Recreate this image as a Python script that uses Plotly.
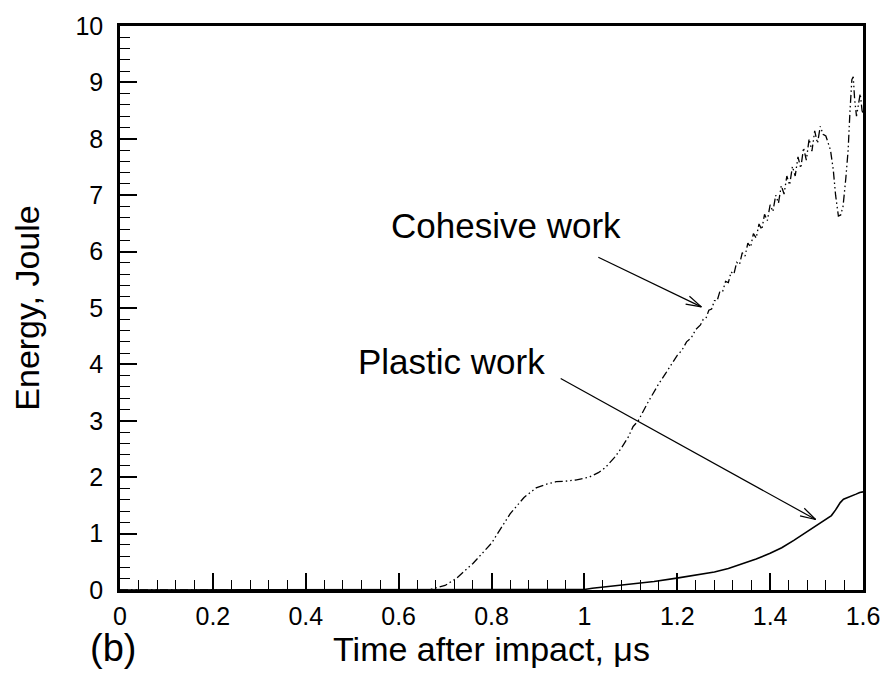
import math
import plotly.graph_objects as go

# Cohesive work (dash-dot-dot) — time in microseconds, energy in Joule
cohesive_t = [0.0, 0.60, 0.66, 0.672, 0.70, 0.725, 0.76, 0.80, 0.84, 0.87, 0.896, 0.92,
              0.939, 0.96, 0.981, 1.01, 1.03, 1.045, 1.065, 1.08, 1.095, 1.105, 1.116,
              1.135, 1.159, 1.175, 1.188, 1.20, 1.21, 1.22, 1.23, 1.24, 1.250,
              1.256, 1.262, 1.268, 1.274, 1.280, 1.286, 1.292, 1.298, 1.304, 1.310,
              1.316, 1.322, 1.328, 1.334, 1.340, 1.346, 1.352, 1.358, 1.364, 1.370,
              1.376, 1.382, 1.388, 1.394, 1.400, 1.406, 1.412, 1.418, 1.424, 1.430,
              1.436, 1.442, 1.448, 1.454, 1.460, 1.466, 1.472, 1.478, 1.484, 1.490,
              1.496, 1.502, 1.508, 1.514, 1.520, 1.530, 1.536, 1.541, 1.547, 1.552,
              1.557, 1.563, 1.568, 1.572, 1.576, 1.579, 1.582, 1.586, 1.590, 1.594,
              1.598, 1.600]
cohesive_e = [0.0, 0.0, 0.0, 0.02, 0.08, 0.21, 0.47, 0.83, 1.35, 1.64, 1.81, 1.88,
              1.92, 1.93, 1.95, 2.00, 2.08, 2.17, 2.35, 2.52, 2.72, 2.90, 3.00,
              3.30, 3.64, 3.84, 4.00, 4.16, 4.25, 4.40, 4.47, 4.62, 4.70,
              4.80, 4.82, 4.96, 4.98, 5.13, 5.13, 5.30, 5.30, 5.47, 5.45,
              5.64, 5.60, 5.81, 5.77, 5.98, 5.92, 6.15, 6.08, 6.32, 6.24,
              6.49, 6.39, 6.66, 6.55, 6.83, 6.71, 7.00, 6.86, 7.17, 7.02,
              7.34, 7.18, 7.51, 7.34, 7.68, 7.48, 7.84, 7.62, 8.00, 7.78,
              8.14, 7.92, 8.22, 8.08, 8.05, 7.80, 7.45, 7.00, 6.63, 6.65,
              6.80, 7.30, 7.80, 8.50, 9.05, 9.10, 8.70, 8.40, 8.60, 8.80,
              8.50, 8.45]

# Plastic work (solid)
plastic_t = [0.0, 0.95, 1.0, 1.017, 1.039, 1.088, 1.15, 1.199, 1.24, 1.28, 1.31, 1.344,
             1.37, 1.40, 1.425, 1.451, 1.473, 1.493, 1.515, 1.532, 1.541, 1.551, 1.558,
             1.568, 1.577, 1.585, 1.593, 1.600]
plastic_e = [0.0, 0.0, 0.01, 0.03, 0.05, 0.09, 0.15, 0.21, 0.26, 0.32, 0.38, 0.47,
             0.55, 0.65, 0.75, 0.88, 1.00, 1.11, 1.23, 1.32, 1.42, 1.55, 1.61,
             1.64, 1.67, 1.70, 1.73, 1.74]

# Label text and the point each arrow points to: (text, text_x, text_y, tail_x, tail_y, tip_x, tip_y)
labels = [
    ("Cohesive work", 0.832, 6.46, 1.030, 5.90, 1.252, 5.02),
    ("Plastic work", 0.713, 4.05, 0.949, 3.75, 1.498, 1.25),
]

FONT = "Liberation Sans, Arial, Helvetica, sans-serif"

fig = go.Figure()
fig.add_trace(go.Scatter(
    x=cohesive_t, y=cohesive_e, mode="lines",
    line=dict(color="black", width=1.3, dash="8px,3px,1.5px,3px,1.5px,3px"),
    showlegend=False, hoverinfo="skip"))
fig.add_trace(go.Scatter(
    x=plastic_t, y=plastic_e, mode="lines",
    line=dict(color="black", width=1.6),
    showlegend=False, hoverinfo="skip"))

annotations = []
shapes = []
for text, tx, ty, x0, y0, x1, y1 in labels:
    annotations.append(dict(x=tx, y=ty, xref="x", yref="y", text=text, showarrow=False,
                            font=dict(family=FONT, size=35, color="black")))
    # arrow shaft
    shapes.append(dict(type="line", xref="x", yref="y", x0=x0, y0=y0, x1=x1, y1=y1,
                       line=dict(color="black", width=1.2)))

# open V arrowheads, drawn in pixel offsets anchored at each tip
px_per_x = 750 / 1.6
px_per_y = 568 / 10
for text, tx, ty, x0, y0, x1, y1 in labels:
    dx = (x1 - x0) * px_per_x
    dy = (y1 - y0) * px_per_y
    ang = math.atan2(dy, dx)
    for s in (+1, -1):
        a = ang + math.pi + s * math.radians(16)
        shapes.append(dict(type="line", xref="x", yref="y",
                           xsizemode="pixel", ysizemode="pixel",
                           xanchor=x1, yanchor=y1,
                           x0=0, y0=0, x1=16 * math.cos(a), y1=16 * math.sin(a),
                           line=dict(color="black", width=1.2)))

annotations.append(dict(x=-0.01, y=-0.062, xref="paper", yref="paper", text="(b)",
                        showarrow=False, xanchor="center", yanchor="top",
                        font=dict(family=FONT, size=38, color="black")))

fig.update_layout(
    width=892, height=675,
    margin=dict(l=120, r=22, t=22, b=85),
    paper_bgcolor="white", plot_bgcolor="white",
    font=dict(family=FONT, color="black"),
    annotations=annotations, shapes=shapes,
    xaxis=dict(range=[0, 1.6], tickmode="linear", tick0=0, dtick=0.2,
               ticks="inside", ticklen=17, tickwidth=2, tickcolor="black",
               minor=dict(tickmode="linear", tick0=0, dtick=0.04, ticks="inside",
                          ticklen=10, tickwidth=1.3, tickcolor="black", showgrid=False),
               showline=True, linecolor="black", linewidth=2.5, mirror=True,
               showgrid=False, zeroline=False,
               tickfont=dict(family=FONT, size=25), ticklabelstandoff=2,
               title=dict(text="Time after impact, μs", font=dict(family=FONT, size=34),
                          standoff=4)),
    yaxis=dict(range=[0, 10], tickmode="linear", tick0=0, dtick=1,
               ticks="inside", ticklen=17, tickwidth=2, tickcolor="black",
               minor=dict(tickmode="linear", tick0=0, dtick=0.2, ticks="inside",
                          ticklen=10, tickwidth=1.3, tickcolor="black", showgrid=False),
               showline=True, linecolor="black", linewidth=2.5, mirror=True,
               showgrid=False, zeroline=False,
               tickfont=dict(family=FONT, size=25), ticklabelstandoff=9,
               title=dict(text="Energy, Joule", font=dict(family=FONT, size=34),
                          standoff=26)),
)

fig.write_html("out.html")
